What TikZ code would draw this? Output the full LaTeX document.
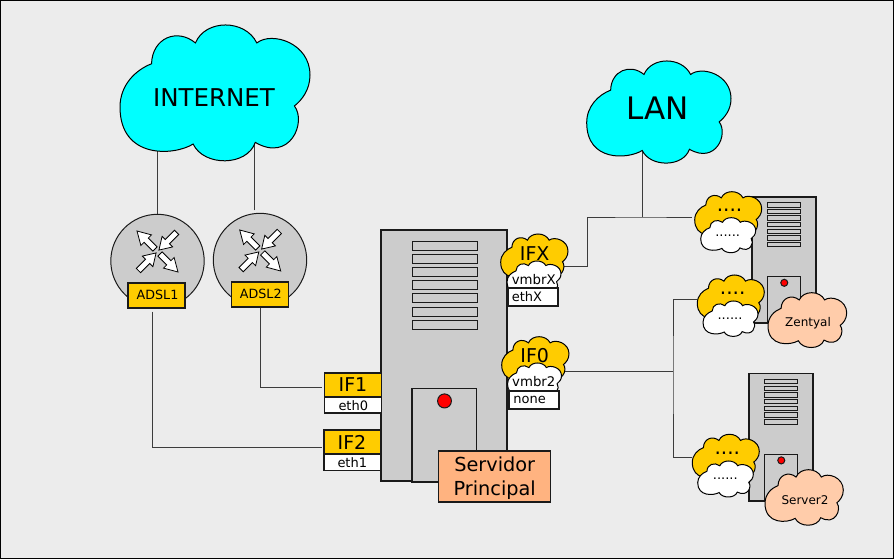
\documentclass[tikz,border=0pt]{standalone}
\usepackage{fontspec}
\setmainfont{DejaVu Sans}
\usetikzlibrary{calc}
\pgfdeclarelayer{wires}
\pgfsetlayers{wires,main}
\definecolor{pagegrey}{HTML}{ECECEC}
\definecolor{metal}{HTML}{CCCCCC}
\definecolor{ifyellow}{HTML}{FFCC00}
\definecolor{netcyan}{HTML}{00FFFF}
\definecolor{mainorange}{HTML}{FFB380}
\definecolor{peach}{HTML}{FFCCAA}
\definecolor{edge}{HTML}{1A1A1A}
\tikzset{
    txt/.style={font=\fontsize{#1}{#1}\selectfont, inner sep=0pt},
    wire/.style={draw=edge!85, line width=1pt},
    place/.style n args={4}{shift={(#1,#2)}, xscale=#3, yscale=#4},
    box/.style n args={3}{draw=edge, line width=1.2pt, rectangle, inner sep=0pt, fill=#3, minimum width=#1, minimum height=#2},
    netcloud/.pic={     % unit box, y runs down
        \draw[pic actions, draw=black, line width=1pt]
            (.166,.283) .. controls (.170,.094) and (.301,.020) .. (.397,.131)
            .. controls (.449,-.044) and (.659,-.044) .. (.720,.131)
            .. controls (.799,.044) and (1,.131) .. (1,.365)
            .. controls (1,.475) and (.956,.549) .. (.918,.591)
            .. controls (.983,.709) and (.895,1.005) .. (.712,.857)
            .. controls (.668,1.034) and (.441,1.034) .. (.385,.869)
            .. controls (.283,.956) and (0,.980) .. (0,.599)
            .. controls (0,.438) and (.082,.328) .. (.166,.283) -- cycle;
    },
    tower/.pic={
        \draw[fill=metal, draw=edge, line width=1.2pt] (0,0) rectangle (1,1);
        \foreach \i in {0,...,6}
            \draw[fill=metal, draw=edge, line width=1pt] (.246,.044+\i*.0526) rectangle (.762,.080+\i*.0526);
        \draw[fill=metal, draw=edge, line width=1.2pt] (.246,.633) rectangle (.758,1.004);
        \draw[fill=red, draw=edge, line width=1pt] (.504,.681) ellipse (.055 and .028);
    },
    router arrows/.pic={
        \foreach \ang in {135,-45}
            \draw[fill=white, draw=black, line width=.8pt, rotate=\ang]
                (3.5,-3) -- (16,-3) -- (16,-7.5) -- (29,0) -- (16,7.5) -- (16,3) -- (3.5,3) -- cycle;
        \foreach \ang in {45,225}
            \draw[fill=white, draw=black, line width=.8pt, rotate=\ang]
                (27,-3) -- (14,-3) -- (14,-7.5) -- (2,0) -- (14,7.5) -- (14,3) -- (27,3) -- cycle;
    }
}
\begin{document}
\begin{tikzpicture}[x=1pt,y=-1pt]
    \useasboundingbox (0,0) rectangle (894,559);
    \begin{pgfonlayer}{wires}
        \draw[fill=pagegrey, draw=black, line width=1.2pt] (.6,.6) rectangle (893.4,558.4);
    \end{pgfonlayer}

    % clouds for the two networks
    \pic[fill=netcyan, place={120}{25}{190}{137}] {netcloud};
    \node[txt=24.5] (internet) at (214,98) {INTERNET};
    \pic[fill=netcyan, place={586.7}{61}{144.3}{103}] {netcloud};
    \node[txt=31] (lan) at (657.8,108.7) {LAN};

    % routers
    \node[circle, draw=edge, line width=1pt, fill=metal, minimum size=93.4pt, inner sep=0pt] (router1) at (157.5,261) {};
    \pic at (157.5,251.5) {router arrows};
    \node[box={57pt}{25pt}{ifyellow}] (adsl1) at (156.5,295.5) {};
    \node[txt=12.7] (adsl1t) at (157.5,295) {ADSL1};
    \node[circle, draw=edge, line width=1pt, fill=metal, minimum size=93.4pt, inner sep=0pt] (router2) at (260,260) {};
    \pic at (260.2,250.5) {router arrows};
    \node[box={57pt}{25pt}{ifyellow}] (adsl2) at (260,294.5) {};
    \node[txt=12.7] (adsl2t) at (260.8,294) {ADSL2};

    % main server and its interfaces
    \pic[place={381}{230}{126}{251}] {tower};
    \node[box={112pt}{51pt}{mainorange}] (mainlabel) at (494.7,476.5) {};
    \node[inner sep=0pt, align=center, font=\fontsize{19.3}{24}\selectfont] (mainlabelt) at ($(mainlabel)+(0,1.2)$) {Servidor\\Principal};

    \node[box={57pt}{24pt}{ifyellow}] (if1) at (353.3,385) {};
    \node[txt=19] (if1t) at (353,384.5) {IF1};
    \node[box={57pt}{16pt}{white}] (eth0) at (353.3,405) {};
    \node[txt=13] (eth0t) at (353.3,405.5) {eth0};
    \node[box={57pt}{24pt}{ifyellow}] (if2) at (352.5,442) {};
    \node[txt=19] (if2t) at (352,442.3) {IF2};
    \node[box={57pt}{16.5pt}{white}] (eth1) at (352.5,462.3) {};
    \node[txt=13] (eth1t) at (352.3,462.3) {eth1};

    \pic[fill=ifyellow, place={500.7}{234}{67.3}{47}] {netcloud};
    \node[txt=19] (ifx) at (534.7,253.3) {IFX};
    \pic[fill=white, place={507}{261}{54}{35}] {netcloud};
    \node[txt=13.3] (vmbrx) at (533.7,280) {vmbrX};
    \node[box={50pt}{18pt}{white}] (ethx) at (533,297) {};
    \node[txt=13] (ethxt) at ($(ethx)+(-6,0)$) {ethX};

    \pic[fill=ifyellow, place={501.7}{336.7}{67.3}{47}] {netcloud};
    \node[txt=19] (if0) at (534.7,355.7) {IF0};
    \pic[fill=white, place={507.5}{363}{54}{35}] {netcloud};
    \node[txt=13.3] (vmbr2) at (533.8,382) {vmbr2};
    \node[box={50pt}{18pt}{white}] (none) at (534,400) {};
    \node[txt=13] (nonet) at ($(none)+(-4.3,0)$) {none};

    % Zentyal
    \pic[place={752}{197}{64}{126}] {tower};
    \pic[fill=ifyellow, place={694.7}{191.7}{67}{47}] {netcloud};
    \node[txt=20] (dots1) at (729.5,210) {....};
    \pic[fill=white, place={700.7}{217.7}{55}{35.3}] {netcloud};
    \node[txt=13] (sub1) at (727.7,235.7) {......};
    \pic[fill=ifyellow, place={697.3}{275}{67}{47}] {netcloud};
    \node[txt=20] (dots2) at (732.7,293.3) {....};
    \pic[fill=white, place={703}{301}{55}{35.7}] {netcloud};
    \node[txt=13] (sub2) at (730,319) {......};
    \pic[fill=peach, place={768}{292.7}{78.7}{55.3}] {netcloud};
    \node[txt=12] (zentyal) at (808,323) {Zentyal};

    % Server2
    \pic[place={749}{373.7}{64}{127.3}] {tower};
    \pic[fill=ifyellow, place={692.3}{434.3}{67}{47}] {netcloud};
    \node[txt=20] (dots3) at (727.3,453.3) {....};
    \pic[fill=white, place={697.7}{461}{55.6}{36.3}] {netcloud};
    \node[txt=13] (sub3) at (725.3,479) {......};
    \pic[fill=peach, place={765}{469.7}{78.3}{56}] {netcloud};
    \node[txt=12] (server2) at (805,500) {Server2};

    \coordinate (uplink) at (587.5,217);
    \coordinate (lanjoin) at (642,217);
    \coordinate (trunk) at (673,371.5);

    \begin{pgfonlayer}{wires}
        \draw[wire] (router1.north) -- (router1.north |- internet);
        \draw[wire] ([shift={(-6,-2.5)}]router2.north) -- ([shift={(-6,-2.5)}]router2.north |- internet);
        \draw[wire] ([shift={(-4.5,3)}]adsl1.south) |- ([shift={(-1,5)}]if2.west);
        \draw[wire] ([shift={(.5,0)}]adsl2.south) |- ([shift={(-2,2.5)}]if1.west);
        \draw[wire] (lanjoin |- lan) -- (lanjoin);
        \draw[wire] ([shift={(0,13)}]ifx.center) -| (uplink) -- (lanjoin) -- ([shift={(-37.5,7)}]dots1.center);
        \draw[wire] ([shift={(0,15.8)}]if0.center) -- (trunk);
        \draw[wire] ([shift={(-36,6.2)}]dots2.center) -| (trunk) |- ([shift={(-35,3.7)}]dots3.center);
    \end{pgfonlayer}
\end{tikzpicture}
\end{document}
